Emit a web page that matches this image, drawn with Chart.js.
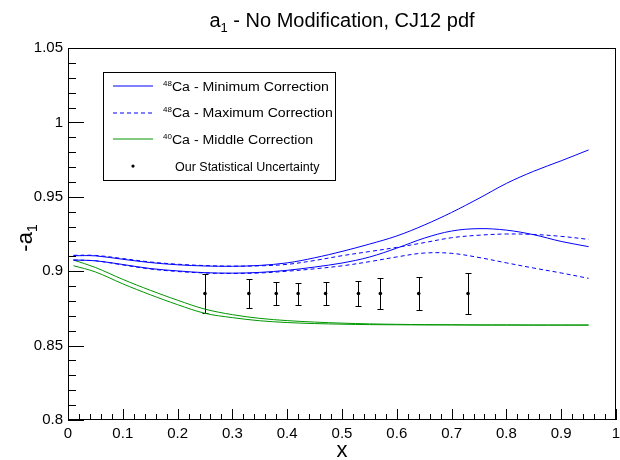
<!DOCTYPE html>
<html>
<head>
<meta charset="utf-8">
<script src="https://cdn.jsdelivr.net/npm/chart.js@4.4.1/dist/chart.umd.min.js"></script>
<style>
html, body { margin: 0; padding: 0; background: #fff; }
</style>
</head>
<body>
<canvas id="chart" width="620" height="460"></canvas>
<script>
var chartFont = '"Liberation Sans", Arial, Helvetica, sans-serif';

var xVals = [0.01, 0.05, 0.1, 0.15, 0.2, 0.25, 0.3, 0.35, 0.4, 0.45, 0.5, 0.55, 0.6, 0.65, 0.7, 0.75, 0.8, 0.85, 0.9, 0.95];

// 48Ca minimum correction (solid blue), two curves
var ca48MinUpper = [0.9104, 0.9103, 0.9080, 0.9058, 0.9043, 0.9035, 0.9033, 0.9039, 0.9056, 0.9090, 0.9133, 0.9182, 0.9237, 0.9310, 0.9395, 0.9490, 0.9590, 0.9672, 0.9742, 0.9815];
var ca48MinLower = [0.9075, 0.9070, 0.9045, 0.9018, 0.9002, 0.8990, 0.8987, 0.8992, 0.9006, 0.9028, 0.9055, 0.9095, 0.9155, 0.9222, 0.9270, 0.9286, 0.9276, 0.9245, 0.9200, 0.9165];
// 48Ca maximum correction (dashed blue)
var ca48MaxUpper = [0.9107, 0.9106, 0.9085, 0.9062, 0.9047, 0.9038, 0.9034, 0.9036, 0.9046, 0.9072, 0.9104, 0.9132, 0.9160, 0.9192, 0.9225, 0.9242, 0.9250, 0.9247, 0.9234, 0.9214];
var ca48MaxLower = [0.9075, 0.9070, 0.9042, 0.9015, 0.8998, 0.8988, 0.8985, 0.8988, 0.9000, 0.9016, 0.9036, 0.9064, 0.9096, 0.9122, 0.9120, 0.9092, 0.9056, 0.9021, 0.8988, 0.8952];
// 40Ca middle correction (green)
var ca40MidUpper = [0.9075, 0.9025, 0.8945, 0.8872, 0.8805, 0.8745, 0.8708, 0.8683, 0.8668, 0.8658, 0.8651, 0.8646, 0.8643, 0.8641, 0.8640, 0.8639, 0.8639, 0.8638, 0.8638, 0.8638];
var ca40MidLower = [0.9037, 0.8995, 0.8915, 0.8842, 0.8775, 0.8717, 0.8688, 0.8667, 0.8655, 0.8648, 0.8644, 0.8641, 0.8640, 0.8639, 0.8639, 0.8638, 0.8638, 0.8638, 0.8638, 0.8638];

// statistical uncertainty points
var statX = [0.25, 0.33, 0.38, 0.42, 0.47, 0.53, 0.57, 0.64, 0.73];
var statY = [0.885, 0.885, 0.885, 0.885, 0.885, 0.885, 0.885, 0.885, 0.885];
var statErr = [0.0128, 0.0095, 0.0077, 0.0074, 0.0077, 0.0087, 0.0101, 0.0110, 0.0138];

var xTickValues = [0, 0.1, 0.2, 0.3, 0.4, 0.5, 0.6, 0.7, 0.8, 0.9, 1];
var yTickValues = [0.8, 0.85, 0.9, 0.95, 1, 1.05];

var legendSup = ['48', '48', '40', ''];
var legendText = ['Ca - Minimum Correction', 'Ca - Maximum Correction', 'Ca - Middle Correction', 'Our Statistical Uncertainty'];

var blue = '#0000ff';
var green = '#009600';

function pairs(ys) {
    return xVals.map(function(x, i) { return {x: x, y: ys[i]}; });
}

function curve(ys, color, dash) {
    return {
        type: 'line',
        data: pairs(ys),
        borderColor: color,
        borderWidth: 1,
        borderDash: dash,
        pointRadius: 0,
        fill: false,
        tension: 0.35
    };
}

// draws text pieces (with sub/superscripts) one after another, returns end x
function textWithScript(ctx, parts, x, y, stretch) {
    stretch = stretch || 1;
    parts.forEach(function(p) {
        ctx.font = p.size + 'px ' + chartFont;
        ctx.save();
        ctx.translate(x, y + (p.dy || 0));
        ctx.scale(stretch, 1);
        ctx.fillText(p.t, 0, 0);
        ctx.restore();
        x += ctx.measureText(p.t).width * stretch;
    });
    return x;
}
function scriptWidth(ctx, parts) {
    var w = 0;
    parts.forEach(function(p) {
        ctx.font = p.size + 'px ' + chartFont;
        w += ctx.measureText(p.t).width;
    });
    return w;
}

var rootStyle = {
    id: 'rootStyle',
    beforeDatasetsDraw: function(chart) {
        var ctx = chart.ctx, xs = chart.scales.x, ys = chart.scales.y;
        ctx.save();
        ctx.strokeStyle = '#000';
        ctx.lineWidth = 1;
        for (var i = 0; i < statX.length; i++) {
            var px = Math.round(xs.getPixelForValue(statX[i])) + 0.5;
            var top = Math.round(ys.getPixelForValue(statY[i] + statErr[i])) + 0.5;
            var bot = Math.round(ys.getPixelForValue(statY[i] - statErr[i])) + 0.5;
            ctx.beginPath();
            ctx.moveTo(px, top); ctx.lineTo(px, bot);
            ctx.moveTo(px - 3, top); ctx.lineTo(px + 3, top);
            ctx.moveTo(px - 3, bot); ctx.lineTo(px + 3, bot);
            ctx.stroke();
        }
        ctx.restore();
    },
    afterDraw: function(chart) {
        var ctx = chart.ctx, a = chart.chartArea, xs = chart.scales.x, ys = chart.scales.y;
        ctx.save();
        ctx.strokeStyle = '#000';
        ctx.lineWidth = 1;
        // frame
        ctx.strokeRect(a.left + 0.5, a.top + 0.5, a.right - a.left - 1, a.bottom - a.top - 1);
        // ticks pointing inwards
        ctx.beginPath();
        for (var i = 0; i <= 25; i++) {
            var py = Math.round(ys.getPixelForValue(0.8 + i * 0.01)) + 0.5;
            var len = i % 5 == 0 ? 16 : 8;
            ctx.moveTo(a.left, py); ctx.lineTo(a.left + len, py);
        }
        for (var j = 0; j <= 50; j++) {
            var px = Math.round(xs.getPixelForValue(j * 0.02)) + 0.5;
            var l2 = j % 5 == 0 ? 11 : 6;
            ctx.moveTo(px, a.bottom); ctx.lineTo(px, a.bottom - l2);
        }
        ctx.stroke();

        ctx.fillStyle = '#000';
        ctx.textBaseline = 'alphabetic';
        ctx.textAlign = 'left';
        // title
        var titleParts = [{t: 'a', size: 20}, {t: '1', size: 13, dy: 5}, {t: ' - No Modification, CJ12 pdf', size: 20}];
        var tw = scriptWidth(ctx, titleParts);
        textWithScript(ctx, titleParts, 342 - tw / 2, 27);

        // x title
        ctx.font = '22px ' + chartFont;
        ctx.textAlign = 'center';
        ctx.fillText('x', (a.left + a.right) / 2, 457);
        ctx.textAlign = 'left';

        // y title
        var yParts = [{t: '-a', size: 22}, {t: '1', size: 14, dy: 5}];
        ctx.save();
        ctx.translate(32, 238);
        ctx.rotate(-Math.PI / 2);
        var yw = scriptWidth(ctx, yParts);
        textWithScript(ctx, yParts, -yw / 2, 0);
        ctx.restore();

        // legend
        ctx.fillStyle = '#fff';
        ctx.fillRect(103, 72, 232, 108);
        ctx.strokeStyle = '#000';
        ctx.strokeRect(103.5, 72.5, 232, 108);
        ctx.fillStyle = '#000';
        var lineColors = [blue, blue, green];
        var lineDashes = [[], [4, 3], []];
        for (var k = 0; k < 4; k++) {
            var cy = 86 + k * 26.7;
            if (k < 3) {
                ctx.save();
                ctx.beginPath();
                ctx.lineWidth = 1;
                ctx.strokeStyle = lineColors[k];
                ctx.setLineDash(lineDashes[k]);
                ctx.moveTo(113, Math.round(cy));
                ctx.lineTo(153, Math.round(cy));
                ctx.stroke();
                ctx.restore();
                var sx = textWithScript(ctx, [{t: legendSup[k], size: 8, dy: -5}], 163, cy + 4.5);
                textWithScript(ctx, [{t: legendText[k], size: 12.5}], sx, cy + 4.5, 1.13);
            } else {
                ctx.beginPath();
                ctx.arc(133, cy, 1.6, 0, Math.PI * 2);
                ctx.fill();
                textWithScript(ctx, [{t: legendText[k], size: 12.5}], 175, cy + 4.5);
            }
        }
        ctx.restore();
    }
};

var tickFont = {family: chartFont, size: 15};

var chart = new Chart(document.getElementById('chart'), {
    type: 'line',
    data: {
        datasets: [
            curve(ca48MinUpper, blue, []),
            curve(ca48MinLower, blue, []),
            curve(ca48MaxUpper, blue, [4, 3]),
            curve(ca48MaxLower, blue, [4, 3]),
            curve(ca40MidUpper, green, []),
            curve(ca40MidLower, green, []),
            {
                type: 'scatter',
                data: statX.map(function(x, i) { return {x: x, y: statY[i]}; }),
                showLine: false,
                pointRadius: 1.8,
                pointBackgroundColor: '#000',
                pointBorderColor: '#000',
                pointBorderWidth: 0
            }
        ]
    },
    options: {
        responsive: false,
        animation: false,
        events: [],
        layout: {padding: {top: 48, right: 2, left: 0, bottom: 0}},
        plugins: {legend: {display: false}, title: {display: false}, tooltip: {enabled: false}},
        scales: {
            x: {
                type: 'linear', min: 0, max: 1,
                border: {display: false},
                grid: {display: false, drawTicks: false},
                afterBuildTicks: function(s) { s.ticks = xTickValues.map(function(v) { return {value: v}; }); },
                ticks: {
                    color: '#000', font: tickFont, padding: 5, maxRotation: 0, autoSkip: false,
                    callback: function(v) { return String(+(+v).toFixed(2)); }
                },
                afterFit: function(s) { s.height = 40; s.paddingLeft = 0; s.paddingRight = 0; }
            },
            y: {
                type: 'linear', min: 0.8, max: 1.05,
                border: {display: false},
                grid: {display: false, drawTicks: false},
                afterBuildTicks: function(s) { s.ticks = yTickValues.map(function(v) { return {value: v}; }); },
                ticks: {
                    color: '#000', font: tickFont, padding: 5, autoSkip: false,
                    callback: function(v) { return String(+(+v).toFixed(2)); }
                },
                afterFit: function(s) { s.width = 68; s.paddingTop = 0; s.paddingBottom = 0; }
            }
        }
    },
    plugins: [rootStyle]
});
</script>
</body>
</html>
